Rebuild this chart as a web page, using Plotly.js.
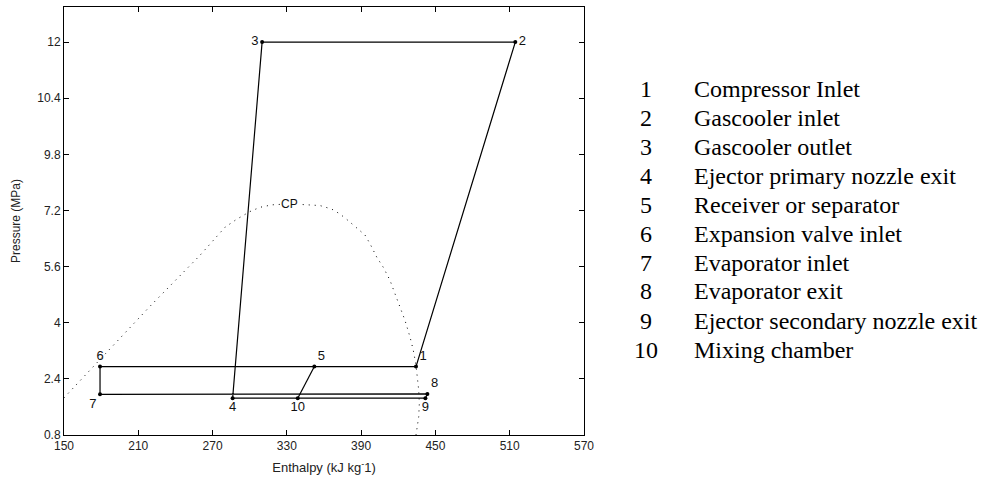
<!DOCTYPE html>
<html>
<head>
<meta charset="utf-8">
<script src="https://cdn.plot.ly/plotly-3.0.1.min.js"></script>
<style>html,body{margin:0;padding:0;background:#fff;}#chart{width:990px;height:486px;}</style>
</head>
<body>
<div id="chart"></div>
<script>
// State points of the cycle (enthalpy kJ/kg, pressure MPa)
const stateLabels = ['1','2','3','4','5','6','7','8','9','10'];
const stateH = [434.3, 514.5, 310.0, 286.2, 352.2, 179.1, 179.1, 443.5, 441.9, 338.8];
const stateP = [2.75, 12.0, 12.0, 1.85, 2.75, 2.75, 1.96, 1.97, 1.85, 1.85];

// Saturation dome (dotted)
const domeH = [150.0, 179.1, 219.5, 259.8, 270.6, 280.0, 289.5, 294.8, 300.2, 308.3, 317.8, 332.5,
  346.0, 356.8, 366.2, 372.9, 379.6, 386.4, 393.1, 397.2, 402.6, 407.9, 413.3, 417.3, 421.4,
  425.4, 429.5, 432.1, 434.3, 435.4, 436.5, 437.0, 436.5, 434.9, 434.3];
const domeP = [1.86, 2.95, 4.47, 5.92, 6.36, 6.72, 6.95, 7.07, 7.17, 7.29, 7.36, 7.39,
  7.37, 7.34, 7.24, 7.10, 6.91, 6.70, 6.50, 6.25, 5.87, 5.58, 5.21, 4.83, 4.45,
  4.07, 3.59, 3.22, 2.79, 2.46, 2.08, 1.70, 1.32, 0.94, 0.80];
const criticalLabel = 'CP';
const criticalH = 332.5;
const criticalP = 7.39;

// Axis ticks
const xTickVals = [150, 210, 270, 330, 390, 450, 510, 570];
const yTickVals = [0.8, 2.4, 4, 5.6, 7.2, 8.8, 10.4, 12];
const yTickText = ['0.8', '2.4', '4', '5.6', '7.2', '9.8', '10.4', '12'];

// Key
const keyNums = ['1','2','3','4','5','6','7','8','9','10'];
const keyTexts = ['Compressor Inlet', 'Gascooler inlet', 'Gascooler outlet', 'Ejector primary nozzle exit',
  'Receiver or separator', 'Expansion valve inlet', 'Evaporator inlet', 'Evaporator exit',
  'Ejector secondary nozzle exit', 'Mixing chamber'];

// Connection order of the cycle (state numbers)
const mainPath = [3, 2, 1, 5, 6, 7, 8, 9, 10, 4, 3];
const mixPath = [10, 5];

const labelPos = ['top right', 'middle right', 'middle left', 'bottom center', 'top right',
  'top center', 'bottom left', 'top right', 'bottom center', 'bottom center'];

function pathTrace(order) {
  return {
    x: order.map(n => stateH[n - 1]),
    y: order.map(n => stateP[n - 1]),
    mode: 'lines', type: 'scatter',
    line: {color: '#000', width: 1.2},
    hoverinfo: 'skip', showlegend: false
  };
}

const traces = [
  {
    x: domeH, y: domeP, mode: 'lines', type: 'scatter',
    line: {color: '#000', width: 1, dash: '1px,5px'},
    hoverinfo: 'skip', showlegend: false
  },
  pathTrace(mainPath),
  pathTrace(mixPath),
  {
    x: stateH, y: stateP, text: stateLabels, mode: 'markers+text', type: 'scatter',
    textposition: labelPos,
    textfont: {family: 'Liberation Sans, Arial, sans-serif', size: 13, color: '#111'},
    marker: {color: '#000', size: 4},
    hoverinfo: 'skip', showlegend: false, cliponaxis: false
  }
];

const annotations = [{
  x: criticalH, y: criticalP, xref: 'x', yref: 'y', text: criticalLabel, showarrow: false,
  font: {family: 'Liberation Sans, Arial, sans-serif', size: 12, color: '#111'},
  bgcolor: '#fff', borderpad: 0, xanchor: 'center', yanchor: 'middle'
}];

const plotTopPx = 7, plotHpx = 428, plotLeftPx = 64, plotWpx = 520;
keyNums.forEach((n, i) => {
  const ypx = 88.5 + i * 29.0;
  const yp = (plotTopPx + plotHpx - ypx) / plotHpx;
  annotations.push({
    x: (646 - plotLeftPx) / plotWpx, y: yp, xref: 'paper', yref: 'paper', text: n, showarrow: false,
    xanchor: 'center', yanchor: 'middle',
    font: {family: 'Liberation Serif, Times New Roman, serif', size: 24, color: '#000'}
  });
  annotations.push({
    x: (692 - plotLeftPx) / plotWpx, y: yp, xref: 'paper', yref: 'paper', text: keyTexts[i], showarrow: false,
    xanchor: 'left', yanchor: 'middle',
    font: {family: 'Liberation Serif, Times New Roman, serif', size: 24, color: '#000'}
  });
});

const tickFont = {family: 'Liberation Sans, Arial, sans-serif', size: 12, color: '#222'};

const layout = {
  width: 990, height: 486,
  margin: {l: 64, r: 406, t: 7, b: 51, pad: 0},
  paper_bgcolor: '#fff', plot_bgcolor: '#fff',
  showlegend: false,
  xaxis: {
    range: [150, 570], tickmode: 'array', tickvals: xTickVals,
    ticks: 'inside', ticklen: 5, tickcolor: '#000', tickwidth: 1,
    showline: true, linecolor: '#000', linewidth: 1, mirror: 'ticks',
    showgrid: false, zeroline: false, tickfont: tickFont,
    title: {text: 'Enthalpy (kJ kg<sup>-</sup>1)', font: {family: 'Liberation Sans, Arial, sans-serif', size: 13, color: '#222'}, standoff: 10}
  },
  yaxis: {
    range: [0.8, 13], tickmode: 'array', tickvals: yTickVals, ticktext: yTickText,
    ticks: 'inside', ticklen: 5, tickcolor: '#000', tickwidth: 1,
    showline: true, linecolor: '#000', linewidth: 1, mirror: 'ticks',
    showgrid: false, zeroline: false, tickfont: tickFont,
    title: {text: 'Pressure (MPa)', font: {family: 'Liberation Sans, Arial, sans-serif', size: 12, color: '#222'}, standoff: 14}
  },
  annotations: annotations
};

Plotly.newPlot('chart', traces, layout, {displayModeBar: false, staticPlot: true});
</script>
</body>
</html>
